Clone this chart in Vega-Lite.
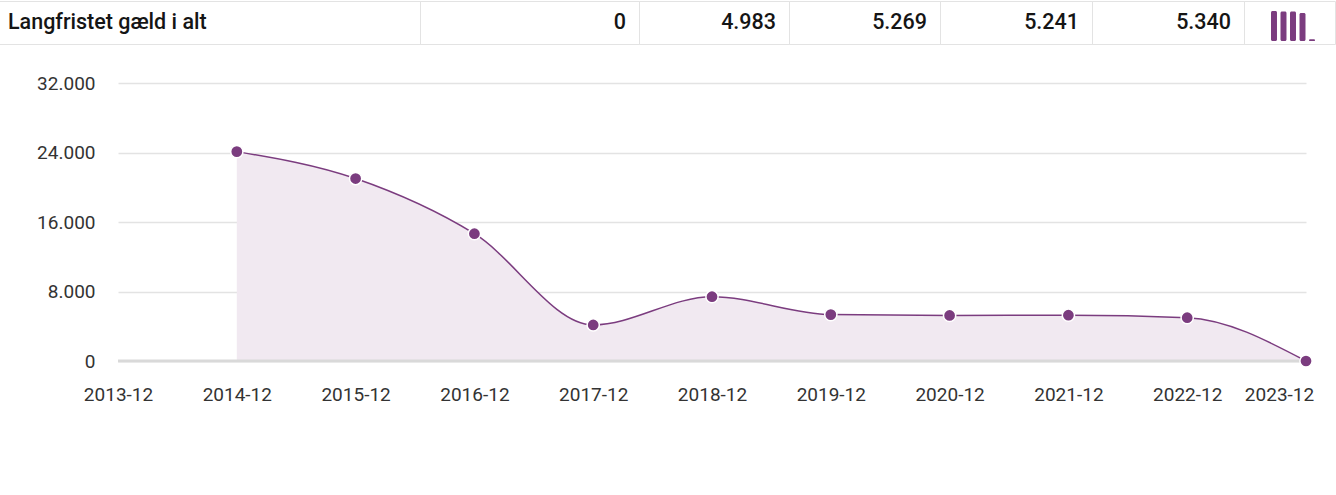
{
  "$schema": "https://vega.github.io/schema/vega-lite/v6.json",
  "padding": {"top": 0, "left": -2, "right": 0, "bottom": 0},
  "background": "white",
  "config": {
    "font": "Roboto",
    "locale": {"number": {"decimal": ",", "thousands": ".", "grouping": [3], "currency": ["", " kr."]}},
    "view": {"stroke": null}
  },
  "datasets": {
    "series": [
      {"period": "2014-12", "value": 24100},
      {"period": "2015-12", "value": 21000},
      {"period": "2016-12", "value": 14650},
      {"period": "2017-12", "value": 4150},
      {"period": "2018-12", "value": 7400},
      {"period": "2019-12", "value": 5340},
      {"period": "2020-12", "value": 5241},
      {"period": "2021-12", "value": 5269},
      {"period": "2022-12", "value": 4983},
      {"period": "2023-12", "value": 0}
    ],
    "table": [
      {"column": "2023", "value": 0},
      {"column": "2022", "value": 4983},
      {"column": "2021", "value": 5269},
      {"column": "2020", "value": 5241},
      {"column": "2019", "value": 5340}
    ]
  },
  "spacing": 29,
  "vconcat": [
    {
      "spacing": 0,
      "bounds": "flush",
      "hconcat": [
        {
          "width": 421, "height": 43,
          "view": {"stroke": "#e3e3e3", "strokeWidth": 1},
          "data": {"values": [{"label": "Langfristet gæld i alt"}]},
          "mark": {"type": "text", "align": "left", "baseline": "middle", "dx": 9, "fontSize": 21.5, "fontWeight": 500, "color": "#151515"},
          "encoding": {"x": {"value": 0}, "text": {"field": "label", "type": "nominal"}}
        },
        {
          "width": 219, "height": 43,
          "view": {"stroke": "#e3e3e3", "strokeWidth": 1},
          "data": {"name": "table"},
          "transform": [{"filter": "datum.column == '2023'"}],
          "mark": {"type": "text", "align": "right", "baseline": "middle", "dx": -13, "fontSize": 21.5, "fontWeight": 500, "color": "#151515"},
          "encoding": {"x": {"value": "width"}, "text": {"field": "value", "type": "quantitative", "format": ",d"}}
        },
        {
          "width": 150, "height": 43,
          "view": {"stroke": "#e3e3e3", "strokeWidth": 1},
          "data": {"name": "table"},
          "transform": [{"filter": "datum.column == '2022'"}],
          "mark": {"type": "text", "align": "right", "baseline": "middle", "dx": -13, "fontSize": 21.5, "fontWeight": 500, "color": "#151515"},
          "encoding": {"x": {"value": "width"}, "text": {"field": "value", "type": "quantitative", "format": ",d"}}
        },
        {
          "width": 151, "height": 43,
          "view": {"stroke": "#e3e3e3", "strokeWidth": 1},
          "data": {"name": "table"},
          "transform": [{"filter": "datum.column == '2021'"}],
          "mark": {"type": "text", "align": "right", "baseline": "middle", "dx": -13, "fontSize": 21.5, "fontWeight": 500, "color": "#151515"},
          "encoding": {"x": {"value": "width"}, "text": {"field": "value", "type": "quantitative", "format": ",d"}}
        },
        {
          "width": 152, "height": 43,
          "view": {"stroke": "#e3e3e3", "strokeWidth": 1},
          "data": {"name": "table"},
          "transform": [{"filter": "datum.column == '2020'"}],
          "mark": {"type": "text", "align": "right", "baseline": "middle", "dx": -13, "fontSize": 21.5, "fontWeight": 500, "color": "#151515"},
          "encoding": {"x": {"value": "width"}, "text": {"field": "value", "type": "quantitative", "format": ",d"}}
        },
        {
          "width": 152, "height": 43,
          "view": {"stroke": "#e3e3e3", "strokeWidth": 1},
          "data": {"name": "table"},
          "transform": [{"filter": "datum.column == '2019'"}],
          "mark": {"type": "text", "align": "right", "baseline": "middle", "dx": -13, "fontSize": 21.5, "fontWeight": 500, "color": "#151515"},
          "encoding": {"x": {"value": "width"}, "text": {"field": "value", "type": "quantitative", "format": ",d"}}
        },
        {
          "width": 91, "height": 43,
          "view": {"stroke": "#e3e3e3", "strokeWidth": 1},
          "data": {"name": "table"},
          "mark": {"type": "bar", "color": "#7b3c7f", "cornerRadiusEnd": 1.5},
          "encoding": {
            "x": {"field": "column", "type": "ordinal", "sort": "ascending", "axis": null,
                  "scale": {"type": "band", "paddingInner": 0.37, "paddingOuter": 0, "range": [27, 71]}},
            "y": {"field": "value", "type": "quantitative", "axis": null,
                  "scale": {"domain": [-900, 7240], "nice": false, "zero": false}},
            "y2": {"datum": -340}
          }
        }
      ]
    },
    {
      "spacing": 0,
      "bounds": "flush",
      "hconcat": [
        {
          "width": 119, "height": 1,
          "data": {"values": []},
          "mark": {"type": "point", "opacity": 0},
          "encoding": {}
        },
        {
          "width": 1188,
          "height": 278,
          "data": {"name": "series"},
          "layer": [
            {
              "mark": {"type": "area", "interpolate": "monotone", "color": "#f1e9f1", "opacity": 1},
              "encoding": {
                "x": {"field": "period", "type": "ordinal",
                      "scale": {"type": "point", "padding": 0,
                                "domain": ["2013-12","2014-12","2015-12","2016-12","2017-12","2018-12","2019-12","2020-12","2021-12","2022-12","2023-12"]},
                      "axis": {"title": null, "labelAngle": 0, "ticks": false, "domain": false, "grid": false,
                               "labelFontSize": 19, "labelColor": "#333333", "labelPadding": 24,
                               "labelOffset": {"condition": {"test": "datum.value === '2023-12'", "value": -27}, "value": 0}}},
                "y": {"field": "value", "type": "quantitative",
                      "scale": {"domain": [0, 32000], "nice": false},
                      "axis": {"title": null, "values": [0, 8000, 16000, 24000, 32000], "format": ",d",
                               "ticks": false, "domain": false, "gridColor": "#e3e3e3", "gridWidth": 1.5,
                               "labelFontSize": 19, "labelColor": "#333333", "labelPadding": 23}}
              }
            },
            {
              "data": {"values": [{"zero": 0}]},
              "mark": {"type": "rule", "color": "#d9d9d9", "strokeWidth": 3},
              "encoding": {"y": {"field": "zero", "type": "quantitative"}}
            },
            {
              "mark": {"type": "line", "interpolate": "monotone", "color": "#7b3c7f", "strokeWidth": 1.5},
              "encoding": {
                "x": {"field": "period", "type": "ordinal"},
                "y": {"field": "value", "type": "quantitative"}
              }
            },
            {
              "mark": {"type": "point", "filled": true, "size": 150, "color": "#7b3c7f", "stroke": "white", "strokeWidth": 1.5, "opacity": 1},
              "encoding": {
                "x": {"field": "period", "type": "ordinal"},
                "y": {"field": "value", "type": "quantitative"}
              }
            }
          ]
        }
      ]
    }
  ]
}
